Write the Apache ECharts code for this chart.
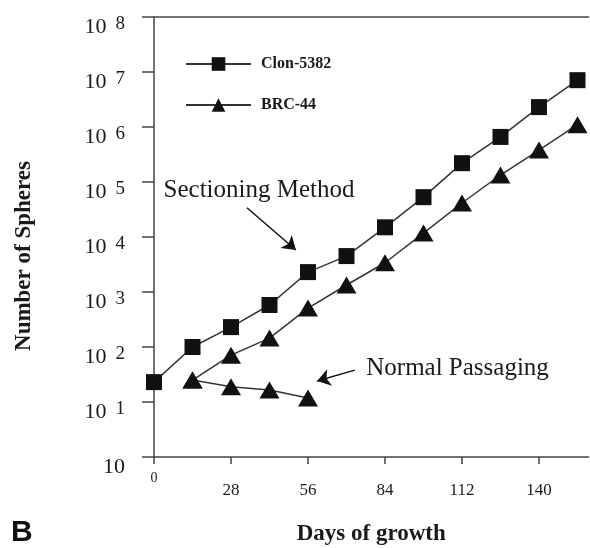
<!DOCTYPE html>
<html>
<head>
<meta charset="utf-8">
<script src="https://cdn.jsdelivr.net/npm/echarts@6/dist/echarts.min.js"></script>
<style>
  html, body { margin: 0; background: #fff; }
  #chart { width: 590px; height: 548px; }
</style>
</head>
<body>
<div id="chart"></div>
<script>
// days of growth shown on the x axis
const dayTicks = [0, 28, 56, 84, 112, 140];

// Clon-5382, sectioning method
const clonDays = [0, 14, 28, 42, 56, 70, 84, 98, 112, 126, 140, 154];
const clonSpheres = [23, 100, 230, 580, 2300, 4500, 15000, 53000, 220000, 660000, 2300000, 7100000];

// BRC-44, sectioning method
const brcDays = [14, 28, 42, 56, 70, 84, 98, 112, 126, 140, 154];
const brcSpheres = [25, 71, 145, 510, 1340, 3400, 11800, 41500, 134000, 380000, 1100000];

// BRC-44, normal passaging
const normalDays = [14, 28, 42, 56];
const normalSpheres = [25, 19, 16.5, 11.8];

const serif = 'Liberation Serif';
const ink = '#1a1a1a';

const zip = (xs, ys) => xs.map((x, i) => [x, ys[i]]);

const chart = echarts.init(document.getElementById('chart'));

const lineSeries = (name, symbol, size, xs, ys) => ({
  name,
  type: 'line',
  data: zip(xs, ys),
  symbol,
  symbolSize: size,
  clip: false,
  itemStyle: { color: '#111' },
  lineStyle: { color: '#333', width: 1.5 },
  emphasis: { disabled: true }
});

const normal = lineSeries('BRC-44', 'triangle', [20, 17], normalDays, normalSpheres);
normal.markLine = {
  silent: true,
  symbol: ['none', 'arrow'],
  symbolSize: 13,
  label: { show: false },
  lineStyle: { color: '#111', width: 1.5, type: 'solid' },
  data: [
    [{ coord: [33.8, 34000] }, { coord: [51.6, 5800] }],
    [{ coord: [73, 38] }, { coord: [59.3, 24] }]
  ]
};
normal.markPoint = {
  silent: true,
  symbol: 'circle',
  symbolSize: 1,
  itemStyle: { color: 'transparent' },
  label: {
    show: true, position: 'right', distance: 0,
    fontFamily: serif, fontSize: 25, color: ink,
    formatter: (p) => p.name
  },
  data: [
    { name: 'Sectioning Method', coord: [3.3, 69000] },
    { name: 'Normal Passaging', coord: [77, 41] }
  ]
};

chart.setOption({
  animation: false,
  grid: { left: 154, right: 1.5, top: 17, bottom: 91, outerBoundsMode: 'none' },
  legend: {
    data: ['Clon-5382', 'BRC-44'],
    orient: 'vertical',
    left: 180, top: 51,
    itemWidth: 65, itemHeight: 17, itemGap: 25,
    selectedMode: false,
    textStyle: { fontFamily: serif, fontWeight: 'bold', fontSize: 16, color: ink, padding: [0, 0, 0, 5] }
  },
  xAxis: [{
    type: 'value', min: 0, max: 158,
    name: 'Days of growth', nameLocation: 'middle', nameGap: 66,
    nameTextStyle: { fontFamily: serif, fontWeight: 'bold', fontSize: 23, color: ink },
    axisLine: { lineStyle: { color: '#444', width: 1.5 } },
    axisTick: { length: 7, customValues: dayTicks, lineStyle: { color: '#444', width: 1.5 } },
    axisLabel: {
      customValues: dayTicks, margin: 14,
      formatter: (v) => v === 0 ? '{z|0}' : '{n|' + v + '}',
      rich: {
        z: { fontFamily: serif, fontSize: 14, color: ink },
        n: { fontFamily: serif, fontSize: 17, color: ink, padding: [11, 0, 0, 0] }
      }
    },
    splitLine: { show: false }
  }, {
    type: 'value', min: 0, max: 158, position: 'top',
    axisLine: { show: true, lineStyle: { color: '#444', width: 1.5 } },
    axisTick: { show: false }, axisLabel: { show: false }, splitLine: { show: false }
  }],
  yAxis: {
    type: 'log', logBase: 10, min: 1, max: 1e8, interval: 1,
    name: 'Number of Spheres', nameLocation: 'middle', nameGap: 118, nameRotate: 90,
    nameTextStyle: { fontFamily: serif, fontWeight: 'bold', fontSize: 23, color: ink, padding: [0, 38, 0, 0] },
    axisLine: { show: true, lineStyle: { color: '#444', width: 1.5 } },
    axisTick: { show: true, length: 12, lineStyle: { color: '#444', width: 1.5 } },
    axisLabel: {
      margin: 29, padding: [21, 0, 0, 0],
      formatter: (v) => {
        const e = Math.round(Math.log10(v));
        return e === 0 ? '{b|10}' : '{b|10}{e|' + e + '}';
      },
      rich: {
        b: { fontFamily: serif, fontSize: 22, lineHeight: 22, color: ink, verticalAlign: 'bottom' },
        e: { fontFamily: serif, fontSize: 19, lineHeight: 19, color: ink, padding: [0, 0, 5, 9], verticalAlign: 'bottom' }
      }
    },
    splitLine: { show: false }
  },
  graphic: [{
    type: 'text', left: 11, top: 518,
    style: { text: 'B', font: 'bold 30px "Liberation Sans"', fill: '#111' }
  }],
  series: [
    lineSeries('Clon-5382', 'rect', 16, clonDays, clonSpheres),
    lineSeries('BRC-44', 'triangle', [20, 17], brcDays, brcSpheres),
    normal
  ]
});
</script>
</body>
</html>
